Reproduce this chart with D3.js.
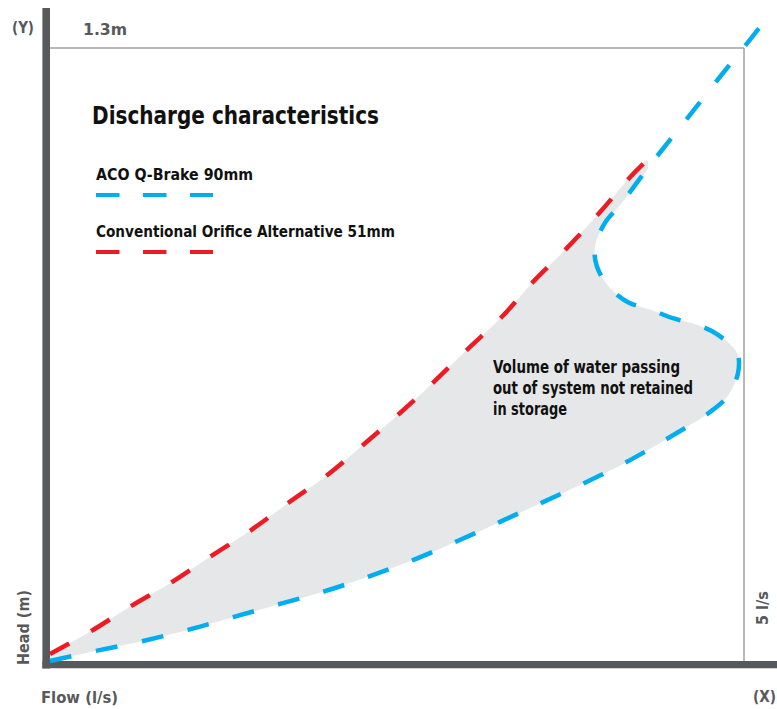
<!DOCTYPE html>
<meta charset="utf-8">
<style>
    body { margin: 0; background: #fff; }
    svg text { font-family: "Liberation Sans Narrow", "DejaVu Sans Condensed", "Liberation Sans", sans-serif; font-weight: bold; }
    .axislabel { fill: #58595b; font-size: 16px; }
    .curve { fill: none; stroke-width: 4.5; stroke-dasharray: 22 25; }
</style>
<body>
<script src="https://d3js.org/d3.v7.min.js"></script>
<script>
    // ACO Q-Brake 90mm (flow l/s, head m) - lower branch, bulge, then upper branch
    var qbrakeFlow = [0, 0.324, 0.663, 0.994, 1.318, 1.657, 1.981, 2.305, 2.615, 2.932, 3.242, 3.552, 3.869, 4.179, 4.467, 4.755, 4.877, 4.957, 4.950, 4.805, 4.661, 4.488, 4.337, 4.164, 4.035, 3.941, 3.926, 3.998, 4.107, 4.215, 4.308, 4.467, 4.632, 4.849, 5.058, 5.166];
    var qbrakeHead = [0, 0.021, 0.042, 0.066, 0.093, 0.121, 0.148, 0.180, 0.214, 0.254, 0.295, 0.337, 0.380, 0.426, 0.475, 0.528, 0.560, 0.611, 0.653, 0.693, 0.713, 0.727, 0.744, 0.761, 0.791, 0.836, 0.878, 0.929, 0.967, 1.009, 1.046, 1.105, 1.166, 1.247, 1.323, 1.364];

    // Conventional orifice 51mm
    var orificeFlow = [0, 0.288, 0.576, 0.865, 1.153, 1.441, 1.715, 1.996, 2.255, 2.522, 2.759, 3.004, 3.256, 3.480, 3.725, 3.963, 4.179, 4.301];
    var orificeHead = [0.015, 0.062, 0.115, 0.165, 0.221, 0.276, 0.335, 0.394, 0.458, 0.526, 0.590, 0.660, 0.730, 0.804, 0.876, 0.952, 1.026, 1.062];

    var seriesNames = ["ACO Q-Brake 90mm", "Conventional Orifice Alternative 51mm"];
    var seriesColors = ["#00aeef", "#ed1c24"];
    var noteLines = ["Volume of water passing", "out of system not retained", "in storage"];
    var maxFlowLabel = "5 l/s", maxHeadLabel = "1.3m";

    var width = 777, height = 709;
    var svg = d3.select("body").append("svg")
        .attr("width", width)
        .attr("height", height);

    var x = d3.scaleLinear().domain([0, 5]).range([50, 744]);
    var y = d3.scaleLinear().domain([0, 1.3]).range([661, 48]);

    var qbrake = qbrakeFlow.map(function (d, i) { return [d, qbrakeHead[i]]; });
    var orifice = orificeFlow.map(function (d, i) { return [d, orificeHead[i]]; });

    var line = d3.line()
        .x(function (d) { return x(d[0]); })
        .y(function (d) { return y(d[1]); })
        .curve(d3.curveCatmullRom.alpha(0.5));

    // shaded area between the two curves (up to where they meet)
    var tip = 30;
    var shade = orifice.concat(qbrake.slice(0, tip + 1).reverse());
    svg.append("path")
        .attr("d", line(shade) + "Z")
        .attr("fill", "#e6e7e8");

    // thin frame at max values
    svg.append("line")
        .attr("x1", x(0)).attr("x2", x(5))
        .attr("y1", y(1.3)).attr("y2", y(1.3))
        .attr("stroke", "#a0a0a0").attr("stroke-width", 1.5);
    svg.append("line")
        .attr("x1", x(5)).attr("x2", x(5))
        .attr("y1", y(1.3)).attr("y2", y(0))
        .attr("stroke", "#a0a0a0").attr("stroke-width", 1.5);

    // heavy axes
    svg.append("line")
        .attr("x1", x(0) - 3.8).attr("x2", x(0) - 3.8)
        .attr("y1", 8).attr("y2", y(0) + 7.5)
        .attr("stroke", "#58595b").attr("stroke-width", 7.6);
    svg.append("line")
        .attr("x1", x(0) - 7.6).attr("x2", width)
        .attr("y1", y(0) + 3.6).attr("y2", y(0) + 3.6)
        .attr("stroke", "#58595b").attr("stroke-width", 7.2);

    // curves
    svg.append("path")
        .attr("class", "curve")
        .attr("d", line(orifice))
        .attr("stroke", seriesColors[1]);
    svg.append("path")
        .attr("class", "curve")
        .attr("d", line(qbrake))
        .attr("stroke", seriesColors[0]);

    // title + legend
    svg.append("text")
        .attr("x", 92).attr("y", 124)
        .attr("font-size", 25)
        .attr("fill", "#111")
        .attr("textLength", 287).attr("lengthAdjust", "spacingAndGlyphs")
        .text("Discharge characteristics");

    var legendY = [180, 237], legendW = [157, 299];
    seriesNames.forEach(function (name, i) {
        svg.append("text")
            .attr("x", 96).attr("y", legendY[i])
            .attr("font-size", 16)
            .attr("fill", "#111")
            .attr("textLength", legendW[i]).attr("lengthAdjust", "spacingAndGlyphs")
            .text(name);
        svg.append("line")
            .attr("x1", 96).attr("x2", 213)
            .attr("y1", legendY[i] + 15).attr("y2", legendY[i] + 15)
            .attr("stroke", seriesColors[i])
            .attr("stroke-width", 4)
            .attr("stroke-dasharray", "23.5 23.5");
    });

    // annotation
    var noteW = [187, 200, 74];
    noteLines.forEach(function (t, i) {
        svg.append("text")
            .attr("x", 493).attr("y", 373 + i * 21)
            .attr("font-size", 17)
            .attr("fill", "#111")
            .attr("textLength", noteW[i]).attr("lengthAdjust", "spacingAndGlyphs")
            .text(t);
    });

    // axis labels
    svg.append("text").attr("class", "axislabel")
        .attr("x", 12).attr("y", 33)
        .attr("textLength", 22).attr("lengthAdjust", "spacingAndGlyphs")
        .text("(Y)");
    svg.append("text").attr("class", "axislabel")
        .attr("x", 83).attr("y", 35)
        .attr("textLength", 44).attr("lengthAdjust", "spacingAndGlyphs")
        .text(maxHeadLabel);
    svg.append("text").attr("class", "axislabel")
        .attr("x", 41).attr("y", 703)
        .attr("textLength", 77).attr("lengthAdjust", "spacingAndGlyphs")
        .text("Flow (l/s)");
    svg.append("text").attr("class", "axislabel")
        .attr("x", 753).attr("y", 702)
        .attr("textLength", 23).attr("lengthAdjust", "spacingAndGlyphs")
        .text("(X)");
    svg.append("text").attr("class", "axislabel")
        .attr("transform", "translate(29,665) rotate(-90)")
        .attr("textLength", 75).attr("lengthAdjust", "spacingAndGlyphs")
        .text("Head (m)");
    svg.append("text").attr("class", "axislabel")
        .attr("transform", "translate(768,625) rotate(-90)")
        .text(maxFlowLabel);
</script>
</body>
